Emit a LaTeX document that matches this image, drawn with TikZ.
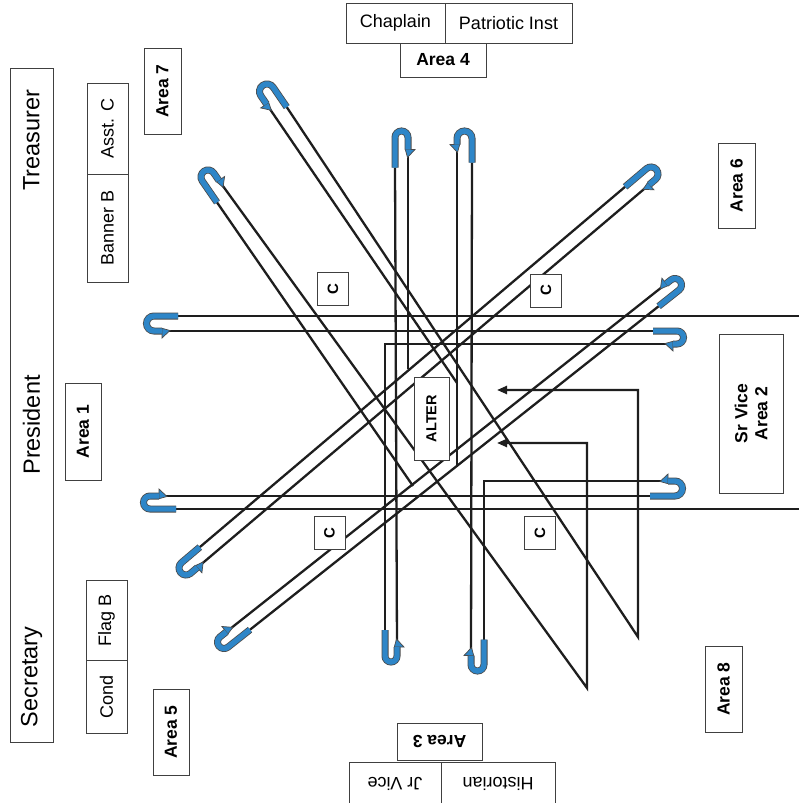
\documentclass[tikz,border=0pt]{standalone}
\usepackage{fontspec}
\setmainfont{Liberation Sans}
\usetikzlibrary{arrows.meta}
\definecolor{ublue}{RGB}{46,134,200}
\definecolor{ink}{RGB}{30,30,30}
\pgfdeclarelayer{bg}
\pgfsetlayers{bg,main}
\tikzset{
  trackline/.style={draw=ink, line width=2.3pt, line join=miter},
  labelbox/.style={draw=ink!85, line width=0.8pt, fill=white, inner sep=0pt, font=\fontsize{18}{20}\selectfont},
  areabox/.style={labelbox, font=\bfseries\fontsize{17.5}{20}\selectfont},
  bigtext/.style={font=\fontsize{23.5}{26}\selectfont},
  cbox/.style={labelbox, font=\bfseries\fontsize{15}{16}\selectfont, rotate=90, minimum width=33pt, minimum height=31pt},
  ushadow/.style={draw=ink!80, line width=7pt},
  ufill/.style={draw=ublue, line width=5.4pt},
  uhead/.style={fill=ublue, draw=ink!80, line width=0.7pt},
  blackhead/.style={-{Triangle[length=10pt,width=8pt]}},
}
% name, cx, cy, angle, flip, r, tail length, head length
\newcommand{\uturn}[8]{%
  \begin{scope}[shift={(#2,#3)}, rotate=#4, yscale=#5]
    \coordinate (#1-t) at (#7,-#6);
    \coordinate (#1-h) at (#8,#6);
    \draw[ushadow] (#7,-#6) -- (0,-#6) arc[start angle=-90, end angle=-270, radius=#6] -- (#8,#6);
    \filldraw[uhead] (#8,{#6-2.7}) -- ({#8+8},{#6-0.5}) -- (#8,{#6+7}) -- cycle;
    \draw[ufill] (#7,-#6) -- (0,-#6) arc[start angle=-90, end angle=-270, radius=#6] -- (#8,#6);
  \end{scope}}
\begin{document}
\begin{tikzpicture}[x=1pt, y=1pt, yscale=-1]
\useasboundingbox (0,0) rectangle (799,803);
\begin{pgfonlayer}{bg}
\fill[white] (0,0) rectangle (799,803);
\end{pgfonlayer}

% U-turns
\uturn{uA}{154}{323.5}{0}{1}{7.5}{24}{8}
\uturn{uB}{150}{502.5}{0}{-1}{6.5}{26}{9}
\uturn{uC}{677}{337.5}{180}{-1}{6.5}{24}{4}
\uturn{uD}{675}{488.5}{180}{1}{7.5}{25}{7}
\uturn{uE}{401.5}{137.5}{90}{-1}{6.5}{30}{12}
\uturn{uF}{464.5}{138.5}{90}{1}{7.5}{24}{6}
\uturn{uG}{391}{656}{-90}{1}{6}{26}{9}
\uturn{uH}{477.5}{664.5}{-90}{-1}{6.5}{25}{9}
\uturn{uI}{651}{174}{139.7}{-1}{7}{28}{8}
\uturn{uJ}{186}{568}{-40.3}{1}{7}{24}{9}
\uturn{uK}{675}{285}{141.6}{1}{6.5}{26}{6}
\uturn{uL}{224}{642}{-38.4}{-1}{6.5}{28}{8}
\uturn{uM}{267}{91.5}{55.6}{1}{7.5}{24}{10}
\uturn{uN}{208}{177}{55.4}{-1}{7}{26}{9}

\begin{pgfonlayer}{bg}
  \coordinate (ra) at (799,316);
  \coordinate (rb) at (799,509);
  \coordinate (ca) at (385,344);
  \coordinate (cb) at (484,481);
  \coordinate (ea) at (408,369);
  \coordinate (eb) at (457,467);
  \coordinate (za1) at (638,637);
  \coordinate (za2) at (638,390);
  \coordinate (za3) at (497,390);
  \coordinate (zb1) at (587,688);
  \coordinate (zb2) at (587,443);
  \coordinate (zb3) at (497,443);
  \coordinate (ma) at (457,383);
  \coordinate (mb) at (413,486);
  \draw[trackline] (uA-t) -- (ra);
  \draw[trackline] (uA-h) -- (uC-t);
  \draw[trackline] (uC-h) -- (ca) -- (uG-t);
  \draw[trackline] (uG-h) -- (uE-t);
  \draw[trackline] (uE-h) -- (ea);
  \draw[trackline] (uB-t) -- (rb);
  \draw[trackline] (uB-h) -- (uD-t);
  \draw[trackline] (uD-h) -- (cb) -- (uH-t);
  \draw[trackline] (uH-h) -- (uF-t);
  \draw[trackline] (uF-h) -- (eb);
  \draw[trackline] (uI-t) -- (uJ-t);
  \draw[trackline] (uI-h) -- (uJ-h);
  \draw[trackline] (uK-t) -- (uL-t);
  \draw[trackline] (uK-h) -- (uL-h);
  \draw[trackline, blackhead] (uM-t) -- (za1) -- (za2) -- (za3);
  \draw[trackline] (uM-h) -- (ma);
  \draw[trackline, blackhead] (uN-h) -- (zb1) -- (zb2) -- (zb3);
  \draw[trackline] (uN-t) -- (mb);
\end{pgfonlayer}

% officer column
\node[labelbox, rotate=90, minimum width=674pt, minimum height=43pt] (officers) at (31.5,405) {};
\node[bigtext, rotate=90] (treas) at (31.5,140) {Treasurer};
\node[bigtext, rotate=90] (pres) at (31.5,425) {President};
\node[bigtext, rotate=90] (secr) at (31.5,677) {Secretary};

\node[areabox, rotate=90, minimum width=97pt, minimum height=36pt] (a1) at (83,431.5) {Area 1};
\node[labelbox, rotate=90, minimum width=91pt, minimum height=41pt] (asst) at (107.5,128.5) {Asst. C};
\node[labelbox, rotate=90, minimum width=108pt, minimum height=41pt] (banner) at (107.5,228) {Banner B};
\node[areabox, rotate=90, minimum width=86pt, minimum height=37pt] (a7) at (162.5,91) {Area 7};
\node[labelbox, rotate=90, minimum width=80pt, minimum height=41pt] (flag) at (106.5,620) {Flag B};
\node[labelbox, rotate=90, minimum width=73pt, minimum height=41pt] (cond) at (106.5,696.5) {Cond};
\node[areabox, rotate=90, minimum width=86pt, minimum height=36pt] (a5) at (171,732) {Area 5};
\node[labelbox, minimum width=99pt, minimum height=40pt] (chap) at (395.5,23) {Chaplain};
\node[labelbox, minimum width=127pt, minimum height=40pt] (patr) at (508.5,23) {Patriotic Inst};
\node[areabox, minimum width=86pt, minimum height=34pt] (a4) at (443,60) {Area 4};
\node[areabox, rotate=90, minimum width=85pt, minimum height=37pt] (a6) at (736.5,185.5) {Area 6};
\node[areabox, rotate=90, minimum width=159pt, minimum height=64pt, align=center] (a2) at (751,413.5) {Sr Vice\\Area 2};
\node[areabox, rotate=90, minimum width=86pt, minimum height=37pt] (a8) at (723.5,689) {Area 8};
\node[areabox, rotate=180, minimum width=85pt, minimum height=37pt] (a3) at (439.5,741.5) {Area 3};
\node[labelbox, rotate=180, minimum width=92pt, minimum height=44pt] (jrv) at (395,784) {Jr Vice};
\node[labelbox, rotate=180, minimum width=114pt, minimum height=44pt] (hist) at (498,784) {Historian};
\node[areabox, rotate=90, minimum width=83pt, minimum height=35pt, font=\bfseries\fontsize{14.5}{16}\selectfont] (alter) at (431.5,418.5) {ALTER};
\node[cbox] (c1) at (333,289) {C};
\node[cbox] (c2) at (546,290.5) {C};
\node[cbox] (c3) at (329.5,533) {C};
\node[cbox] (c4) at (540,533) {C};
\end{tikzpicture}
\end{document}
